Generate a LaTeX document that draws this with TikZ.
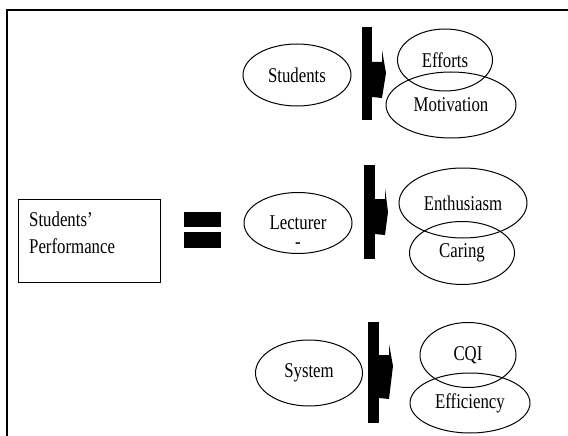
\documentclass[tikz,border=0pt]{standalone}
\usepackage{fontspec}
\setmainfont{Liberation Serif}[FakeStretch=0.8]
\usetikzlibrary{shapes.geometric}

\tikzset{
  ovale/.style={ellipse, draw, line width=1pt, inner sep=0pt, font=\fontsize{21}{21}\selectfont},
  riquadro/.style={rectangle, draw, line width=1pt, inner sep=0pt},
  scritta/.style={inner sep=0pt, font=\fontsize{21}{21}\selectfont}
}

\begin{document}
\begin{tikzpicture}[x=1pt, y=-1pt]
            \useasboundingbox (0,0) rectangle (568,436);

            % Cornice
            \draw[line width=1.3pt] (7,436) -- (7,10) -- (568,10);

            % Prima riga: studenti
            \node[ovale, minimum width=108, minimum height=62] (students) at (297,75) {Students};
            \fill (362,27) rectangle (372,120);
            \fill (372,62) -- (382,62) -- (382,50) -- (386,73) -- (382,98) -- (372,97) -- cycle;
            \node[ovale, minimum width=95, minimum height=62] (efforts) at (445,60) {Efforts};
            \node[ovale, minimum width=130, minimum height=66] (motivation) at (451,105) {Motivation};

            % Seconda riga: rendimento = docente
            \node[riquadro, minimum width=142, minimum height=83] (perf) at (89,240.5) {};
            \node[scritta, anchor=base west] (perf1) at (29,226) {Students'};
            \node[scritta, anchor=base west] (perf2) at (29,253) {Performance};

            % Segno di uguale
            \fill (184,212) rectangle (221,227);
            \fill (184,232) rectangle (221,248);

            \node[ovale, minimum width=108, minimum height=61,
                  label={[scritta, yshift=-23pt]center:-}] (lecturer) at (298,223) {Lecturer};
            \fill (364,165) rectangle (375,259);
            \fill (375,199) -- (385,199) -- (385,188) -- (388,212) -- (385,235) -- (375,234) -- cycle;
            \node[ovale, minimum width=128, minimum height=70] (enthusiasm) at (463,203) {Enthusiasm};
            \node[ovale, minimum width=105, minimum height=63] (caring) at (462,253) {Caring};

            % Terza riga: sistema
            \node[ovale, minimum width=107, minimum height=66] (system) at (309,373) {System};
            \fill (368,322) rectangle (379,423);
            \fill (379,355) -- (389,355) -- (389,344) -- (393,366) -- (389,399) -- (379,398) -- cycle;
            \node[ovale, minimum width=96, minimum height=65] (cqi) at (468,355) {CQI};
            \node[ovale, minimum width=120, minimum height=60] (efficiency) at (470,403) {Efficiency};
\end{tikzpicture}
\end{document}
